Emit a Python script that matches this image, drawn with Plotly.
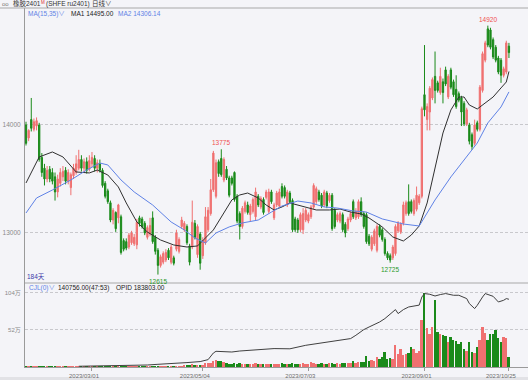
import plotly.graph_objects as go
import pandas as pd

# ---------------- data ----------------
holidays = ['2023-01-23', '2023-01-24', '2023-01-25', '2023-01-26', '2023-01-27',
            '2023-04-05', '2023-05-01', '2023-05-02', '2023-05-03',
            '2023-06-22', '2023-06-23', '2023-09-29',
            '2023-10-02', '2023-10-03', '2023-10-04', '2023-10-05', '2023-10-06']
dates = [d.strftime('%Y/%m/%d') for d in
         pd.bdate_range('2023-01-18', '2023-10-25', freq='C', holidays=holidays)]
tick_dates = ['2023/03/01', '2023/05/04', '2023/07/03', '2023/09/01', '2023/10/25']

opens = [14000, 13880, 14050, 13960, 13990, 14000, 13700, 13600, 13500, 13590,
         13560, 13520, 13380, 13460, 13520, 13580, 13480, 13420, 13530, 13560,
         13600, 13680, 13600, 13660, 13590, 13640, 13690, 13600, 13640, 13580,
         13460, 13390, 13280, 13120, 13190, 13140, 13150, 12930, 12920, 12870,
         12910, 12900, 12890, 13140, 13130, 13090, 12960, 12990, 13140, 12960,
         12840, 12700, 12730, 12750, 12840, 12730, 12770, 12850, 12830, 13060,
         13030, 13060, 12880, 12870, 13090, 12800, 12990, 12790, 12910, 13030,
         13180, 13400, 13340, 13660, 13690, 13490, 13590, 13510, 13510, 13560,
         13340, 13180, 13060, 13200, 13260, 13170, 13200, 13150, 13340, 13240,
         13310, 13330, 13200, 13380, 13140, 13260, 13250, 13430, 13420, 13260,
         13370, 13300, 13130, 13120, 13030, 13030, 13120, 13110, 13150, 13240,
         13290, 13380, 13350, 13260, 13370, 13300, 13350, 13210, 13120, 13110,
         13170, 13080, 13040, 13120, 13290, 13140, 13150, 13290, 13180, 13170,
         12970, 12850, 12900, 12840, 13060, 13030, 12940, 12810, 12790, 12770,
         12810, 13020, 13010, 13090, 13180, 13290, 13290, 13180, 13220, 13280,
         13340, 14280, 14050, 14120, 14250, 14450, 14390, 14300, 14400, 14510,
         14260, 14510, 14400, 14330, 14290, 14250, 14200, 14010, 14000, 13910,
         13830, 14020, 13960, 14320, 14600, 14890, 14880, 14790, 14720, 14620,
         14600, 14460, 14490, 14730]
highs = [14030, 13960, 14250, 14060, 14070, 14020, 13740, 13640, 13620, 13620,
         13600, 13560, 13540, 13600, 13620, 13610, 13590, 13560, 13640, 13720,
         13770, 13720, 13690, 13700, 13720, 13750, 13720, 13680, 13680, 13600,
         13480, 13410, 13300, 13230, 13200, 13270, 13170, 12950, 12950, 13000,
         13020, 12990, 13130, 13160, 13150, 13110, 13070, 13140, 13200, 12980,
         12860, 12800, 12830, 12850, 12860, 12890, 12790, 13030, 12960, 13150,
         13110, 13080, 12900, 13300, 13120, 13080, 13010, 12960, 13240, 13240,
         13500, 13760, 13680, 13680, 13775, 13700, 13620, 13530, 13530, 13570,
         13360, 13200, 13250, 13300, 13290, 13270, 13330, 13420, 13360, 13340,
         13330, 13400, 13410, 13400, 13280, 13390, 13410, 13460, 13440, 13400,
         13390, 13320, 13150, 13140, 13190, 13230, 13230, 13190, 13260, 13460,
         13430, 13400, 13370, 13400, 13390, 13370, 13370, 13230, 13190, 13200,
         13190, 13100, 13150, 13200, 13310, 13230, 13310, 13330, 13200, 13190,
         12990, 12980, 13040, 13080, 13080, 13050, 12960, 12830, 12810, 12890,
         13080, 13110, 13100, 13290, 13300, 13450, 13310, 13320, 13430, 13360,
         14170, 14740, 14200, 14360, 14440, 14680, 14410, 14530, 14430, 14540,
         14470, 14530, 14420, 14460, 14310, 14270, 14220, 14160, 14020, 13930,
         14050, 14040, 14370, 14680, 14780, 14920, 14900, 14810, 14740, 14640,
         14620, 14540, 14780, 14760]
lows = [13810, 13850, 13940, 13940, 13950, 13660, 13520, 13440, 13470, 13470,
        13450, 13300, 13330, 13430, 13480, 13450, 13450, 13350, 13500, 13540,
        13580, 13570, 13560, 13550, 13570, 13610, 13570, 13560, 13560, 13420,
        13320, 13270, 13100, 13080, 13010, 13090, 12800, 12830, 12840, 12850,
        12890, 12880, 12850, 13060, 13040, 12980, 12940, 12970, 12900, 12800,
        12615, 12680, 12710, 12730, 12750, 12710, 12700, 12830, 12810, 13040,
        13010, 12890, 12700, 12850, 12940, 12770, 12660, 12760, 12890, 13010,
        13160, 13380, 13320, 13520, 13520, 13470, 13490, 13330, 13440, 13290,
        13090, 12940, 13040, 13180, 13170, 13110, 13180, 13120, 13240, 13220,
        13170, 13310, 13180, 13270, 13120, 13240, 13230, 13320, 13320, 13240,
        13270, 13010, 13010, 13000, 13010, 12990, 13100, 13090, 13130, 13220,
        13270, 13290, 13230, 13240, 13230, 13280, 13020, 13040, 13100, 13090,
        13010, 12960, 13020, 13100, 13130, 13120, 13130, 13150, 13040, 12900,
        12880, 12830, 12880, 12820, 12960, 12920, 12790, 12750, 12725, 12750,
        12790, 13000, 12990, 13070, 13160, 13160, 13180, 13160, 13200, 13260,
        13320, 14080, 13950, 13950, 14230, 14200, 14300, 14280, 14200, 14360,
        14240, 14330, 14260, 14150, 14210, 13990, 13990, 13990, 13820, 13770,
        13810, 13940, 13940, 14300, 14580, 14720, 14700, 14610, 14580, 14470,
        14390, 14440, 14470, 14620]
closes = [13830, 13950, 13970, 14030, 14040, 13680, 13560, 13500, 13580, 13500,
          13480, 13380, 13500, 13560, 13570, 13480, 13560, 13540, 13600, 13640,
          13680, 13600, 13660, 13580, 13670, 13700, 13600, 13650, 13580, 13440,
          13340, 13290, 13120, 13210, 13040, 13260, 12820, 12850, 12860, 12980,
          13000, 12960, 13100, 13090, 13060, 13000, 13050, 13070, 12920, 12830,
          12700, 12780, 12810, 12820, 12770, 12870, 12720, 13000, 12940, 13120,
          13090, 12910, 12730, 13100, 12960, 13060, 12720, 12930, 13150, 13210,
          13400, 13740, 13650, 13550, 13540, 13680, 13510, 13350, 13460, 13310,
          13110, 13060, 13230, 13280, 13190, 13250, 13310, 13380, 13260, 13320,
          13190, 13380, 13380, 13290, 13260, 13370, 13380, 13340, 13340, 13380,
          13290, 13030, 13030, 13030, 13170, 13180, 13210, 13170, 13240, 13440,
          13410, 13310, 13250, 13380, 13250, 13350, 13040, 13060, 13170, 13180,
          13030, 13000, 13130, 13180, 13150, 13200, 13290, 13170, 13060, 12920,
          12900, 12960, 13020, 13060, 12980, 12940, 12810, 12770, 12750, 12870,
          13060, 13090, 13080, 13260, 13280, 13180, 13200, 13300, 13350, 13340,
          14150, 14140, 14170, 14340, 14420, 14320, 14320, 14450, 14300, 14380,
          14450, 14350, 14280, 14170, 14230, 14120, 14010, 14140, 13850, 13800,
          14000, 13960, 14350, 14660, 14760, 14740, 14720, 14630, 14600, 14490,
          14460, 14520, 14760, 14670]
volumes = [1200, 800, 2600, 900, 1100, 3100, 2400, 1800, 1500, 1300,
           1000, 2200, 1700, 1400, 1200, 1600, 1300, 1900, 1500, 2100,
           2600, 1900, 2300, 1800, 2500, 2000, 2900, 2200, 3100, 3600,
           4200, 3800, 5100, 4400, 3600, 3900, 6200, 4800, 4100, 3700,
           4400, 3900, 5600, 4300, 4700, 5200, 4600, 4900, 6800, 7200,
           8500, 6100, 5800, 6400, 5900, 7100, 6300, 8800, 9500, 14000,
           21000, 26000, 24000, 38000, 29000, 33000, 31000, 35000, 52000, 61000,
           58000, 84000, 92000, 78000, 88000, 66000, 54000, 48000, 39000, 52000,
           47000, 55000, 42000, 46000, 39000, 44000, 41000, 52000, 45000, 38000,
           46000, 41000, 49000, 43000, 37000, 42000, 48000, 51000, 44000, 39000,
           36000, 58000, 44000, 47000, 43000, 52000, 45000, 49000, 76000, 53000,
           47000, 42000, 55000, 48000, 44000, 61000, 57000, 49000, 52000, 46000,
           63000, 58000, 51000, 56000, 84000, 61000, 72000,
           70000, 70000, 150000, 80000, 93000, 80000, 140000, 117000, 140000, 210000,
           117000, 131000, 117000, 303000, 177000, 257000, 163000, 187000, 196000, 280000,
           257000, 196000, 224000,
           653000, 1036000, 541000, 467000, 560000, 933000, 490000, 467000, 443000, 429000,
           350000, 420000, 373000, 364000, 327000, 350000, 257000, 224000, 350000, 210000,
           196000, 280000, 373000, 560000, 480000, 383000, 467000, 467000, 523000, 400000,
           350000, 420000, 400000, 140756]

ma1_idx = [0, 5, 10, 14, 19, 24, 27, 31, 35, 38, 42, 46, 51, 56, 61, 65, 71, 75, 78, 81,
           84, 88, 91, 94, 97, 100, 103, 107, 110, 115, 119, 123, 127, 130, 135, 139, 143,
           146, 149, 152, 155, 158, 161, 164, 166, 168, 171, 173, 177, 180, 182, 183]
ma1_val = [13463, 13704, 13750, 13704, 13565, 13556, 13583, 13537, 13426, 13278,
           13102, 13009, 12935, 12889, 12870, 12880, 13028, 13185, 13306, 13352,
           13370, 13324, 13259, 13213, 13241, 13278, 13259, 13231, 13213, 13213,
           13222, 13194, 13176, 13139, 13056, 12963, 12926, 12981, 13065, 13278,
           13611, 13926, 14139, 14259, 14259, 14185, 14148, 14185, 14259, 14343,
           14398, 14495.00]
ma2_idx = [0, 4, 10, 17, 23, 28, 31, 36, 41, 48, 55, 60, 64, 68, 72, 77, 82, 88, 93, 97,
           103, 108, 113, 118, 124, 129, 135, 143, 149, 155, 161, 166, 171, 175, 180, 183]
ma2_val = [13185, 13324, 13398, 13491, 13583, 13648, 13630, 13491, 13380, 13259,
           13102, 13028, 12954, 12907, 13000, 13056, 13093, 13120, 13194, 13250,
           13296, 13278, 13241, 13231, 13204, 13194, 13130, 13083, 13065, 13306,
           13519, 13676, 13833, 14019, 14167, 14306.14]

# open interest
oi_idx = [20, 32, 46, 50, 57, 61, 66, 69, 71, 72, 78, 81, 94, 100, 106, 115, 123, 125, 128, 130,
          134, 136, 139, 140, 141, 143, 145, 147, 149, 150, 151, 153, 155, 157, 159, 162, 164,
          167, 168, 170, 171, 173, 174, 177, 179, 181, 182, 183]
oi_val = [2000, 2700, 5400, 7300, 9200, 12000, 14700, 20000, 38000, 42600,
          40700, 43400, 50000, 49400, 58900, 67900, 77100, 86100, 101500, 108600,
          122200, 131400, 149300, 155800, 145000, 155800, 162900, 164800, 168000, 190000,
          199300, 197400, 192800, 196600, 199300, 194700, 194700, 185700, 172100, 158600,
          167500, 190000, 199300, 191900, 176500, 181100, 185700, 183803]

# ---------------- figure ----------------
N = len(dates)
x = list(range(N))
RED = '#f07070'
GREEN = '#1a8a1a'
BLUE = '#5f82e6'
FONT = 'Liberation Sans, Noto Sans CJK SC, sans-serif'
W, H = 528, 380
ML, MR, MT, MB = 25, 0, 8, 13
PW, PH = W - ML - MR, H - MT - MB
split = (H - MB - 283) / PH  # main / volume boundary


def px(xp):
    return (xp - ML) / PW


def py(yp):
    return (H - MB - yp) / PH


fig = go.Figure()
fig.add_trace(go.Candlestick(
    x=x, open=opens, high=highs, low=lows, close=closes,
    increasing=dict(line=dict(color=RED, width=1), fillcolor=RED),
    decreasing=dict(line=dict(color=GREEN, width=1), fillcolor=GREEN),
    whiskerwidth=0, xaxis='x2', yaxis='y', showlegend=False))
fig.add_trace(go.Scatter(x=ma1_idx, y=ma1_val, mode='lines', xaxis='x2', yaxis='y',
                         line=dict(color='#303030', width=1), showlegend=False))
fig.add_trace(go.Scatter(x=ma2_idx, y=ma2_val, mode='lines', xaxis='x2', yaxis='y',
                         line=dict(color=BLUE, width=1), showlegend=False))
vcol = [RED if c >= o else GREEN for o, c in zip(opens, closes)]
fig.add_trace(go.Bar(x=x, y=volumes, marker=dict(color=vcol, line=dict(width=0)),
                     width=0.72, xaxis='x', yaxis='y2', showlegend=False))
fig.add_trace(go.Scatter(x=oi_idx, y=oi_val, mode='lines', xaxis='x', yaxis='y3',
                         line=dict(color='#404040', width=1), showlegend=False))

xr = [-(26 - ML) / 2.639, (W - MR - 26) / 2.639]
grid = dict(showgrid=True, gridcolor='#c8c8cc', griddash='3px,2px', gridwidth=1)
fig.update_layout(
    width=W, height=H, margin=dict(l=ML, r=MR, t=MT, b=MB),
    paper_bgcolor='#f4f4f8', plot_bgcolor='#f4f4f8',
    font=dict(family=FONT, size=7, color='#888'),
    bargap=0, hovermode=False,
    xaxis=dict(domain=[0, 1], range=xr, anchor='y2',
               tickvals=[dates.index(d) for d in tick_dates], ticktext=tick_dates,
               ticks='outside', ticklen=3, tickcolor='#9a9a9a', ticklabelshift=-8,
               tickfont=dict(size=6, color='#6e6e6e'),
               showline=True, linecolor='#9a9a9a', linewidth=1,
               showgrid=False, zeroline=False),
    xaxis2=dict(domain=[0, 1], range=xr, anchor='y', matches='x',
                showticklabels=False, showgrid=False, zeroline=False,
                rangeslider=dict(visible=False)),
    yaxis=dict(domain=[split, 1], range=[12537, 15083],
               tickvals=[13000, 14000], ticktext=['13000', '14000'],
               tickfont=dict(size=6.5, color='#8a8a8a'), ticks='', ticklabelstandoff=2,
               showline=True, linecolor='#9a9a9a', linewidth=1, zeroline=False, **grid),
    yaxis2=dict(domain=[0, split], range=[0, 1176000],
                tickvals=[520000, 1040000], ticktext=['52万', '104万'],
                tickfont=dict(size=6, color='#8a8a8a'), ticks='', ticklabelstandoff=2,
                showline=True, linecolor='#9a9a9a', linewidth=1, zeroline=False, **grid),
    yaxis3=dict(domain=[0, split], range=[0, 228000], overlaying='y2', visible=False),
)

shapes = [
    dict(type='line', xref='paper', yref='paper', x0=px(0), x1=1, y0=py(8), y1=py(8),
         line=dict(color='#a8a8a8', width=1)),
    dict(type='line', xref='paper', yref='paper', x0=0, x1=1, y0=split, y1=split,
         line=dict(color='#a8a8a8', width=1)),
    dict(type='rect', xref='paper', yref='paper', x0=px(0), x1=1, y0=py(380), y1=py(377),
         line=dict(width=0), fillcolor='#e2e2e6', layer='below'),
]
fig.update_layout(shapes=shapes)


def note(xp, yp, text, color, size=6.5, anchor='left'):
    fig.add_annotation(xref='paper', yref='paper', x=px(xp), y=py(yp), text=text,
                       showarrow=False, xanchor=anchor, yanchor='middle',
                       font=dict(family=FONT, size=size, color=color))


note(0, 4, 'oo', '#777', 6)
note(11, 4, '橡胶2401', '#333', 6.5)
note(39, 2.5, 'M', '#e03030', 4.5)
note(44, 4, '(SHFE ru2401)', '#333', 6.5)
note(90, 4, '日线∨', '#333', 6.5)
note(26, 14, 'MA(15,35)∨', BLUE)
note(69, 14, f'MA1 {ma1_val[-1]:.2f}', '#222')
note(116, 14, f'MA2 {ma2_val[-1]:.2f}', BLUE)
note(25, 277, f'{N}天', '#3a3aa8')
note(27, 287.5, 'CJL(0)∨', BLUE)
note(56, 287.5, f'{volumes[-1]:.2f}(47:53)', '#222')
note(114, 287.5, f'OPID {oi_val[-1]:.2f}', '#222')

# extreme price labels
hi_i = highs.index(max(highs))
lo_i = lows.index(min(lows))
lo2_i = 138
hi2_i = 74
for i, val, col, up in [(hi_i, highs[hi_i], '#f05050', True), (hi2_i, highs[hi2_i], '#f05050', True),
                        (lo_i, lows[lo_i], '#2a9a2a', False), (lo2_i, lows[lo2_i], '#2a9a2a', False)]:
    fig.add_annotation(x=i, y=val, xref='x2', yref='y', text=str(val), showarrow=False,
                       yanchor='bottom' if up else 'top', yshift=1 if up else -1,
                       font=dict(family=FONT, size=6.5, color=col))

fig.write_html('out.html')
